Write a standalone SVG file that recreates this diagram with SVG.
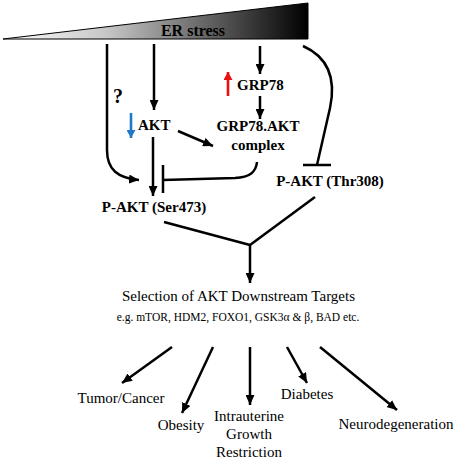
<svg xmlns="http://www.w3.org/2000/svg" width="457" height="461" viewBox="0 0 457 461">
<defs>
<linearGradient id="g" x1="3" y1="0" x2="308" y2="0" gradientUnits="userSpaceOnUse">
<stop offset="0" stop-color="#ffffff"/>
<stop offset="0.35" stop-color="#c4c4c4"/>
<stop offset="1" stop-color="#000000"/>
</linearGradient>
<marker id="ah" markerUnits="userSpaceOnUse" markerWidth="10" markerHeight="9" refX="10" refY="4.5" orient="auto">
<path d="M0,0 L10,4.5 L0,9 z" fill="#000"/>
</marker>
<marker id="ahb" markerUnits="userSpaceOnUse" markerWidth="8" markerHeight="9" refX="8" refY="4.5" orient="auto">
<path d="M0,0 L8,4.5 L0,9 z" fill="#1f78c8"/>
</marker>
<marker id="ahr" markerUnits="userSpaceOnUse" markerWidth="8" markerHeight="9" refX="8" refY="4.5" orient="auto">
<path d="M0,0 L8,4.5 L0,9 z" fill="#e81010"/>
</marker>
</defs>
<style>
.b{font-family:"Liberation Serif","Times New Roman",serif;font-weight:bold;font-size:15px;fill:#000}
.r{font-family:"Liberation Serif","Times New Roman",serif;font-size:15px;fill:#000}
.s{font-family:"Liberation Serif","Times New Roman",serif;font-size:11.5px;fill:#000}
.ln{stroke:#000;stroke-width:2.5;fill:none}
.ar{stroke:#000;stroke-width:2.5;fill:none;marker-end:url(#ah)}
</style>
<g id="er-stress">
<polygon points="3,39 308,3 308,39" fill="url(#g)" stroke="#000" stroke-width="1"/>
<text class="b" x="193" y="36" text-anchor="middle" style="font-size:16px">ER stress</text>
</g>
<g id="connectors">
<path class="ar" d="M107,44 L107,150 C107,170 118,178 139,180"/>
<line class="ar" x1="154" y1="44" x2="154" y2="110"/>
<line class="ar" x1="260" y1="46" x2="260" y2="74"/>
<line class="ar" x1="260" y1="96" x2="260" y2="119"/>
<line class="ar" x1="178" y1="131" x2="213" y2="146"/>
<line class="ar" x1="153" y1="137" x2="153" y2="196"/>
<path class="ln" d="M257,162 C256,172 250,177 235,178 L163,180"/>
<line class="ln" x1="163" y1="165" x2="163" y2="193"/>
<path class="ln" d="M303,46 C330,58 336,80 330,108 L317,165"/>
<line class="ln" x1="303" y1="165" x2="331" y2="165"/>
<line class="ln" x1="164" y1="222" x2="250" y2="245"/>
<line class="ln" x1="315" y1="197" x2="250" y2="245"/>
<line class="ar" x1="250" y1="244" x2="250" y2="283"/>
<line class="ar" x1="172" y1="347" x2="122" y2="383"/>
<line class="ar" x1="213" y1="347" x2="182" y2="413"/>
<line class="ar" x1="250" y1="347" x2="250" y2="405"/>
<line class="ar" x1="287" y1="347" x2="307" y2="383"/>
<line class="ar" x1="320" y1="347" x2="397" y2="410"/>
<line x1="131" y1="113" x2="131" y2="138" stroke="#1f78c8" stroke-width="2.6" marker-end="url(#ahb)"/>
<line x1="228" y1="96" x2="228" y2="72" stroke="#e81010" stroke-width="2.6" marker-end="url(#ahr)"/>
</g>
<g id="question"><text class="b" x="118" y="103" text-anchor="middle" style="font-size:20px">?</text></g>
<g id="akt"><text class="b" x="138" y="130">AKT</text></g>
<g id="grp78"><text class="b" x="237" y="90">GRP78</text></g>
<g id="complex">
<text class="b" x="258" y="131" text-anchor="middle">GRP78.AKT</text>
<text class="b" x="258" y="150" text-anchor="middle">complex</text>
</g>
<g id="pakt-ser473"><text class="b" x="154" y="212" text-anchor="middle">P-AKT (Ser473)</text></g>
<g id="pakt-thr308"><text class="b" x="330" y="186" text-anchor="middle">P-AKT (Thr308)</text></g>
<g id="targets">
<text class="r" x="238.5" y="301" text-anchor="middle">Selection of AKT Downstream Targets</text>
<text class="s" x="238" y="321" text-anchor="middle">e.g. mTOR, HDM2, FOXO1, GSK3α &amp; β, BAD etc.</text>
</g>
<g id="tumor"><text class="r" x="121" y="403" text-anchor="middle">Tumor/Cancer</text></g>
<g id="obesity"><text class="r" x="181" y="430" text-anchor="middle">Obesity</text></g>
<g id="iugr">
<text class="r" x="249" y="421" text-anchor="middle">Intrauterine</text>
<text class="r" x="249" y="439" text-anchor="middle">Growth</text>
<text class="r" x="249" y="457" text-anchor="middle">Restriction</text>
</g>
<g id="diabetes"><text class="r" x="307" y="399" text-anchor="middle">Diabetes</text></g>
<g id="neuro"><text class="r" x="396" y="429" text-anchor="middle">Neurodegeneration</text></g>
</svg>
